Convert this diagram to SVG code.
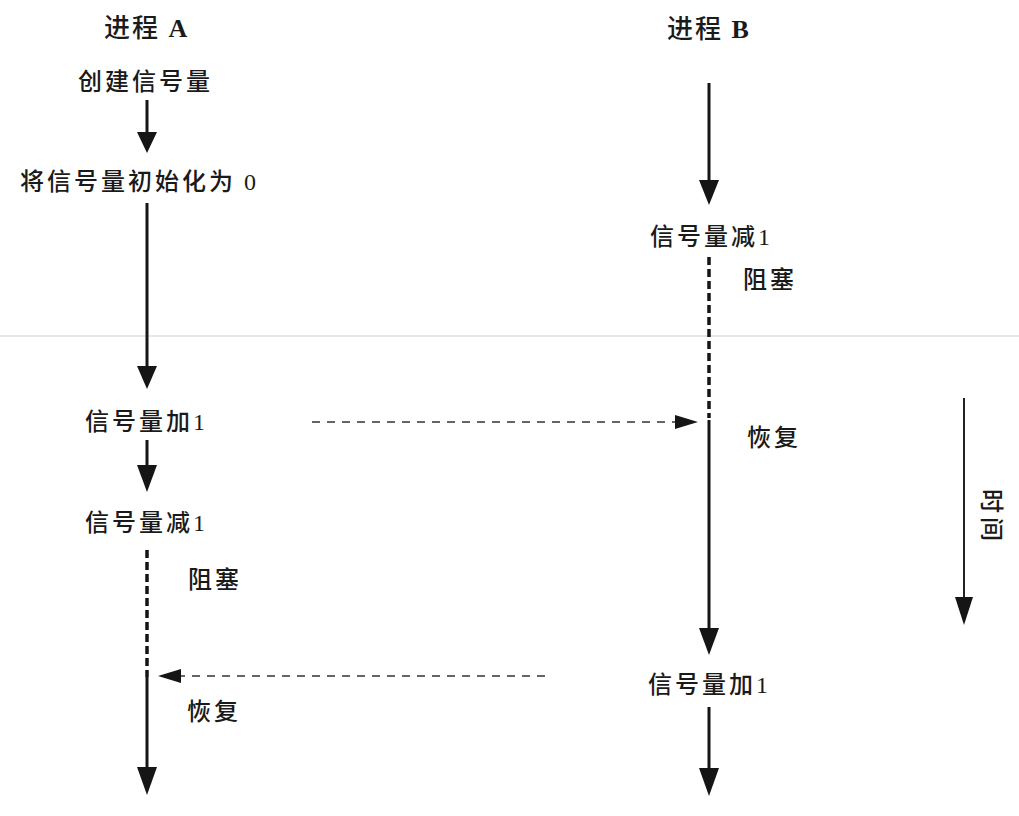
<svg xmlns="http://www.w3.org/2000/svg" width="1019" height="816" viewBox="0 0 1019 816">
<style>
.t{font-family:"Liberation Serif","Noto Sans CJK SC",serif;font-size:24px;letter-spacing:3px;fill:#1a1a1a;font-weight:500}
.h{font-family:"Liberation Serif","Noto Sans CJK SC",serif;font-size:26px;letter-spacing:2px;fill:#1a1a1a;font-weight:500}
.b{font-weight:bold}
.s{stroke:#151515;stroke-width:3;fill:none}
.d{stroke:#151515;stroke-width:3.5;stroke-dasharray:8 4;fill:none}
.hd{stroke:#333;stroke-width:1.6;stroke-dasharray:8 7;fill:none}
.ah{fill:#151515}
</style>
<rect width="1019" height="816" fill="#fff"/>
<line x1="0" y1="336" x2="1019" y2="336" stroke="#e6e6e6" stroke-width="2"/>
<g id="titleA"><text class="h" x="104" y="37">进程 <tspan class="b">A</tspan></text></g>
<g id="titleB"><text class="h" x="667" y="38">进程 <tspan class="b">B</tspan></text></g>
<g id="a1"><text class="t" x="78" y="90">创建信号量</text></g>
<g id="a2"><text class="t" x="20" y="190">将信号量初始化为<tspan dx="8">0</tspan></text></g>
<g id="a3"><text class="t" x="85" y="430">信号量加1</text></g>
<g id="a4"><text class="t" x="85" y="531">信号量减1</text></g>
<g id="a5"><text class="t" x="188" y="588">阻塞</text></g>
<g id="a6"><text class="t" x="187" y="720">恢复</text></g>
<g id="b1"><text class="t" x="650" y="245">信号量减1</text></g>
<g id="b2"><text class="t" x="743" y="288">阻塞</text></g>
<g id="b3"><text class="t" x="747" y="446">恢复</text></g>
<g id="b4"><text class="t" x="648" y="693">信号量加1</text></g>
<g id="time"><text class="h" transform="translate(991,517) rotate(90)" text-anchor="middle" dominant-baseline="central" style="letter-spacing:4px;font-size:24px">时间</text></g>
<g id="connectors">
<line class="s" x1="147" y1="100" x2="147" y2="134"/>
<polygon class="ah" points="137,132 157,132 147,153"/>
<line class="s" x1="147" y1="203" x2="147" y2="368"/>
<polygon class="ah" points="137,366 157,366 147,389"/>
<line class="s" x1="147" y1="440" x2="147" y2="467"/>
<polygon class="ah" points="137,465 157,465 147,492"/>
<line class="d" x1="147" y1="550" x2="147" y2="677"/>
<line class="s" x1="147" y1="677" x2="147" y2="769"/>
<polygon class="ah" points="137,767 157,767 147,795"/>
<line class="hd" x1="545" y1="676" x2="180" y2="676"/>
<polygon class="ah" points="181,669 181,683 158,676"/>
<line class="s" x1="709" y1="83" x2="709" y2="182"/>
<polygon class="ah" points="699,180 719,180 709,205"/>
<line class="d" x1="709" y1="257" x2="709" y2="418"/>
<line class="s" x1="709" y1="420" x2="709" y2="630"/>
<polygon class="ah" points="699,628 719,628 709,655"/>
<line class="s" x1="709" y1="707" x2="709" y2="770"/>
<polygon class="ah" points="699,768 719,768 709,796"/>
<line class="hd" x1="312" y1="422" x2="676" y2="422"/>
<polygon class="ah" points="675,415 675,429 698,422"/>
<line stroke="#222" stroke-width="2" x1="964" y1="398" x2="964" y2="600"/>
<polygon class="ah" points="955,597 973,597 964,625"/>
</g>
</svg>
